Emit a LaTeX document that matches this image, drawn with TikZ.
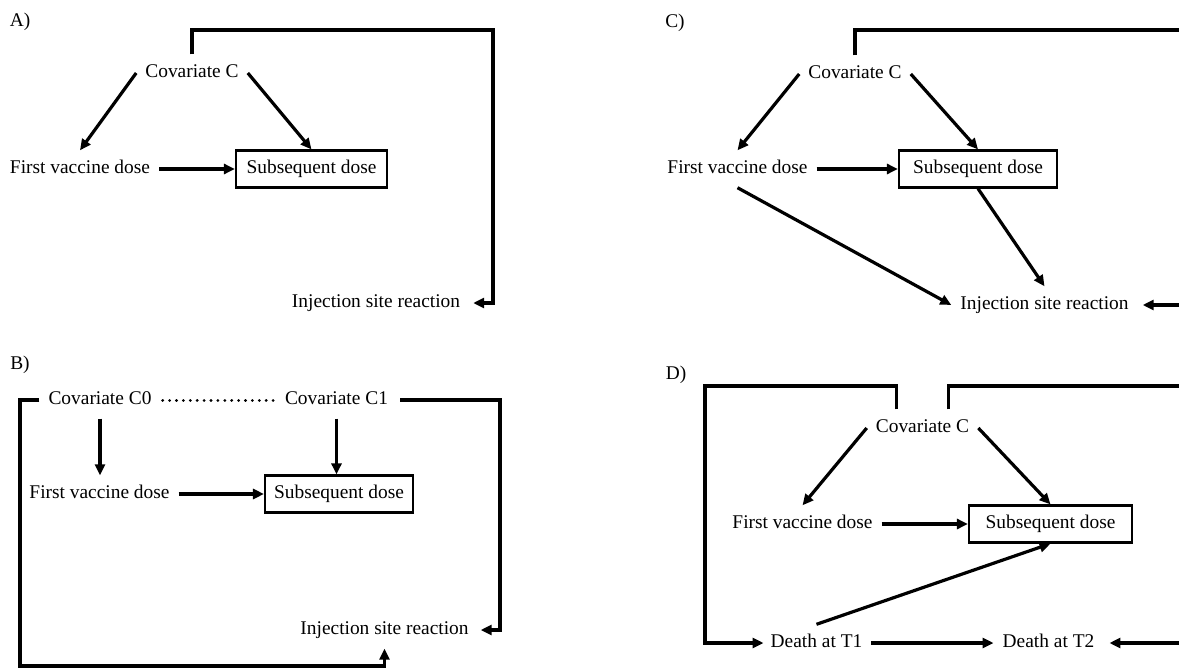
\documentclass[tikz,border=0pt]{standalone}
\usepackage{fontspec}
\setmainfont{Liberation Serif}
\usetikzlibrary{arrows.meta}
\begin{document}
\begin{tikzpicture}[x=1pt,y=-1pt,
  font=\fontsize{19.4}{23}\selectfont,
  lbl/.style={inner xsep=9pt, inner ysep=10pt, text height=13pt, text depth=4pt},
  boxnode/.style={draw, line width=2.2pt, inner xsep=9pt, inner ysep=0pt, text height=13pt, text depth=4pt, minimum height=37pt},
  panel/.style={inner sep=0pt},
  ln/.style={line width=3.2pt},
  arr/.style={line width=3.2pt, -{Triangle[length=11pt,width=10pt]}},
  dots/.style={line width=3pt, line cap=round, dash pattern=on 0.1pt off 6.8pt},
]
\clip (0,0) rectangle (1179,669);
\fill[white] (0,0) rectangle (1179,669);

% ---------- Panel A ----------
\node[panel] (labA) at (20,22) {A)};
\node[lbl] (covA) at (192,73) {Covariate C};
\node[lbl] (firstA) at (80,169) {First vaccine dose};
\node[boxnode, minimum width=151pt] (boxA) at (311.5,169) {Subsequent dose};
\node[lbl] (injA) at (376,303) {Injection site reaction};
\coordinate (aTR) at (493,30);
\draw[arr] (covA.west) -- (firstA.north);
\draw[arr] (covA.east) -- (boxA.north);
\draw[arr] (firstA.east) -- (firstA.east -| boxA.west);
\draw[arr] (covA.north) |- (aTR) |- ([xshift=4pt]injA.east);

% ---------- Panel B ----------
\node[panel] (labB) at (20,365) {B)};
\node[lbl] (c0) at (100,400) {Covariate C0};
\node[lbl] (c1) at (336.5,400) {Covariate C1};
\node[lbl] (firstB) at (99.5,494) {First vaccine dose};
\node[boxnode, minimum width=146pt] (boxB) at (339,494) {Subsequent dose};
\node[lbl] (injB) at (384.5,630) {Injection site reaction};
\coordinate (bBL) at (20,666);
\coordinate (bR) at (500,400);
\draw[dots] ([xshift=2pt]c0.east) -- ([xshift=-2pt]c1.west);
\draw[arr] (c0.south) -- (c0.south |- firstB.north);
\draw[arr] (c1.south) -- (c1.south |- boxB.north);
\draw[arr] (firstB.east) -- (firstB.east -| boxB.west);
\draw[arr] (c0.west) -| (bBL) -| (injB.south);
\draw[arr] ([xshift=3pt]c1.east) -- (bR) |- ([xshift=3pt]injB.east);

% ---------- Panel C ----------
\node[panel] (labC) at (675,23) {C)};
\node[lbl] (covC) at (855,74) {Covariate C};
\node[lbl] (firstC) at (737.5,169) {First vaccine dose};
\node[boxnode, minimum width=158pt] (boxC) at (978,169) {Subsequent dose};
\node[lbl] (injC) at (1044.5,305) {Injection site reaction};
\coordinate (cTR) at (1190,30);
\draw[arr] (covC.west) -- (firstC.north);
\draw[arr] (covC.east) -- (boxC.north);
\draw[arr] (firstC.east) -- (firstC.east -| boxC.west);
\draw[arr] (firstC.south) -- (injC.west);
\draw[arr] (boxC.south) -- (injC.north);
\draw[arr] (covC.north) |- (cTR) |- ([xshift=5pt]injC.east);

% ---------- Panel D ----------
\node[panel] (labD) at (676,375) {D)};
\node[lbl] (covD) at (922.5,428) {Covariate C};
\node[lbl] (firstD) at (802.5,524) {First vaccine dose};
\node[boxnode, minimum width=163pt] (boxD) at (1050.5,524) {Subsequent dose};
\node[lbl] (t1) at (816.5,643) {Death at T1};
\node[lbl] (t2) at (1048.5,643) {Death at T2};
\coordinate (dTL) at (705,386);
\coordinate (dTR) at (1190,386);
\draw[arr] (covD.west) -- (firstD.north);
\draw[arr] (covD.east) -- (boxD.north);
\draw[arr] (firstD.east) -- (firstD.east -| boxD.west);
\draw[arr] (t1.north) -- (boxD.south);
\draw[arr] (t1.east) -- (t2.west);
\draw[arr] ([xshift=-26pt]covD.north) |- (dTL) |- ([xshift=2pt]t1.west);
\draw[arr] ([xshift=26pt]covD.north) |- (dTR) |- ([xshift=6pt]t2.east);
\end{tikzpicture}
\end{document}
